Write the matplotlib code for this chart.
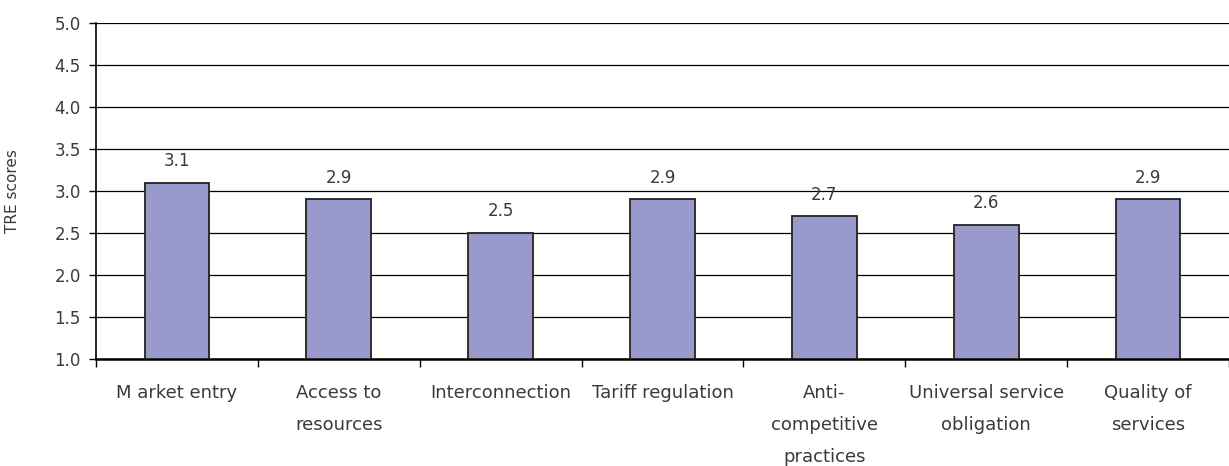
import numpy as np
import matplotlib
matplotlib.use("Agg")
import matplotlib.pyplot as plt

# TRE scores by regulatory area
categories = ["M arket entry", "Access to\nresources", "Interconnection", "Tariff regulation",
              "Anti-\ncompetitive\npractices", "Universal service\nobligation", "Quality of\nservices"]
scores = [3.1, 2.9, 2.5, 2.9, 2.7, 2.6, 2.9]

plt.rcParams['font.family'] = ['DejaVu Sans']

fig = plt.figure(figsize=(12.29, 4.66), dpi=100)
ax = fig.add_axes([96 / 1229, 1 - 359 / 466, 1133 / 1229, 336 / 466])

x = np.arange(len(categories))
bars = ax.bar(x, [s - 1.0 for s in scores], bottom=1.0, width=0.4,
              color="#9999cc", edgecolor="#222222", linewidth=1.3, zorder=3)

# value labels above each bar
for xi, s in zip(x, scores):
    ax.annotate(f"{s:.1f}", (xi, s), xytext=(0, 9), textcoords="offset points",
                ha="center", va="bottom", fontsize=12, color="#3a3a3a")

ax.set_ylim(1.0, 5.0)
ax.set_xlim(-0.5, len(categories) - 0.5)
ax.set_yticks(np.arange(1.0, 5.01, 0.5))
ax.set_yticklabels([f"{v:.1f}" for v in np.arange(1.0, 5.01, 0.5)], fontsize=12, color="#3a3a3a")
ax.yaxis.grid(True, color="black", linewidth=0.9, zorder=0)
ax.set_axisbelow(True)

# category names centred, tick marks at the boundaries
ax.set_xticks(x)
ax.set_xticklabels(categories, fontsize=13, color="#3a3a3a", linespacing=2.0, va="top")
ax.tick_params(axis="x", which="major", length=0, pad=18)
ax.set_xticks(np.arange(-0.5, len(categories), 1.0), minor=True)
ax.tick_params(axis="x", which="minor", length=6, width=1, direction="out", color="black")
ax.tick_params(axis="y", length=5, width=1, direction="out", color="black", pad=6)

ax.set_ylabel("TRE scores", fontsize=11, color="#3a3a3a", labelpad=25)

for side in ["top", "right"]:
    ax.spines[side].set_visible(False)
ax.spines["left"].set_linewidth(1.2)
ax.spines["bottom"].set_linewidth(1.8)

fig.savefig("out.png", dpi=100)
